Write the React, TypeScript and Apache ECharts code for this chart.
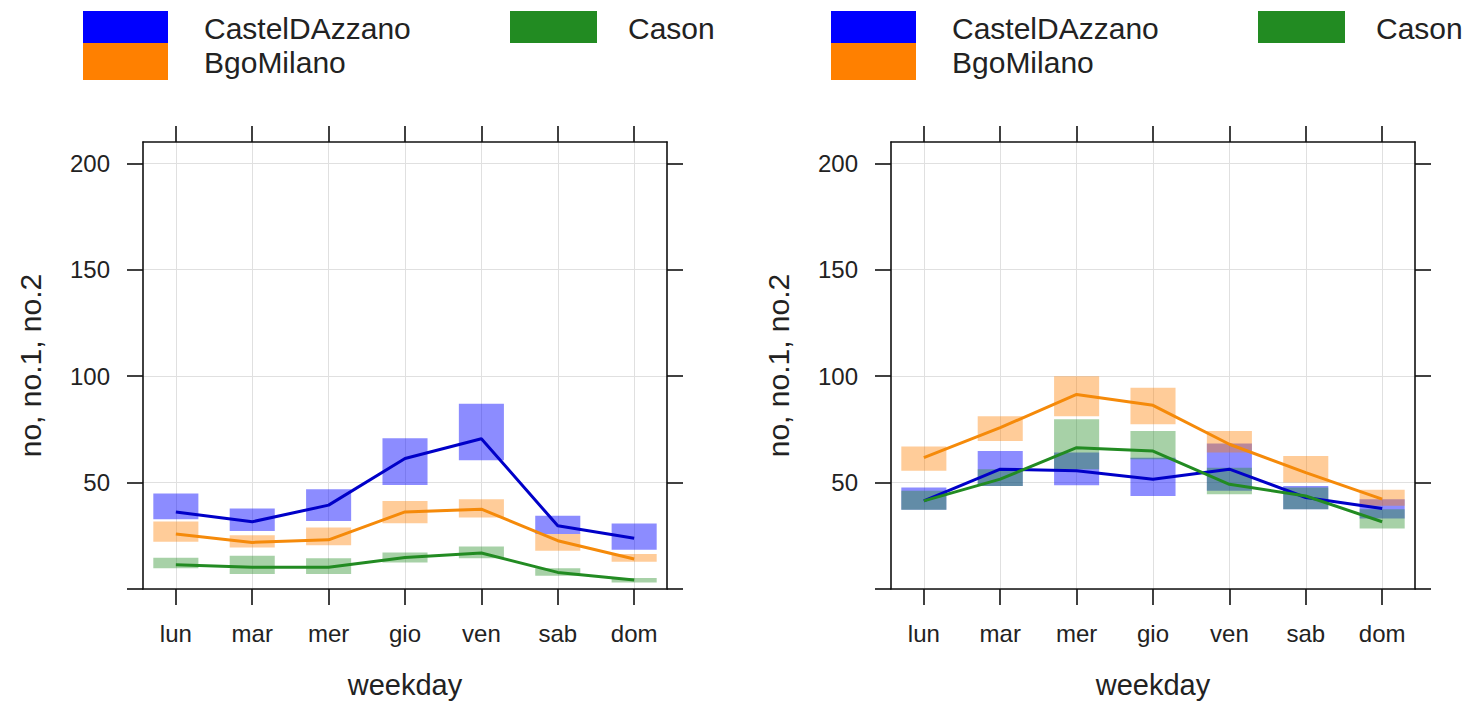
import React, { useEffect, useRef } from 'react';
import * as echarts from 'echarts';

// ---- data ----
const days = ['lun', 'mar', 'mer', 'gio', 'ven', 'sab', 'dom'];
const dayPos = [1, 2, 3, 4, 5, 6, 7];
const seriesNames = ['CastelDAzzano', 'BgoMilano', 'Cason'];
const yTicks = [0, 50, 100, 150, 200];
const yLabelTicks = [50, 100, 150, 200];
const yTitle = 'no, no.1, no.2';
const xTitle = 'weekday';

// left panel
const castelMean1 = [36.2, 31.6, 39.4, 61.3, 70.6, 29.7, 23.8];
const castelLo1 = [32.8, 27.3, 32.0, 48.9, 60.5, 25.8, 18.4];
const castelHi1 = [44.9, 37.8, 46.9, 70.8, 87.0, 34.4, 30.8];
const bgoMean1 = [25.8, 21.9, 23.1, 36.2, 37.5, 22.7, 14.1];
const bgoLo1 = [22.2, 19.5, 20.6, 30.9, 33.6, 18.0, 12.8];
const bgoHi1 = [31.7, 25.3, 28.9, 41.4, 42.2, 25.8, 16.4];
const casonMean1 = [11.4, 10.2, 10.2, 14.8, 16.9, 7.8, 4.2];
const casonLo1 = [9.7, 7.0, 7.0, 12.5, 14.4, 6.2, 3.1];
const casonHi1 = [14.7, 15.6, 14.5, 17.2, 20.0, 9.7, 5.2];

// right panel
const castelMean2 = [41.4, 56.3, 55.5, 51.6, 56.3, 43.0, 37.8];
const castelLo2 = [37.2, 48.4, 48.8, 43.7, 46.1, 37.5, 33.1];
const castelHi2 = [47.7, 64.8, 64.1, 61.7, 68.3, 48.4, 42.2];
const bgoMean2 = [61.7, 75.8, 91.4, 86.3, 68.0, 54.7, 42.2];
const bgoLo2 = [55.5, 69.5, 81.2, 77.4, 64.1, 50.0, 39.1];
const bgoHi2 = [66.9, 81.2, 100.0, 94.6, 74.2, 62.5, 46.6];
const casonMean2 = [41.4, 51.6, 66.4, 64.8, 49.2, 43.7, 31.6];
const casonLo2 = [37.2, 48.4, 56.3, 60.9, 44.5, 37.5, 28.4];
const casonHi2 = [46.1, 56.3, 79.7, 74.2, 57.0, 47.7, 37.5];

const panels = [
  {
    mean: [castelMean1, bgoMean1, casonMean1],
    lo: [castelLo1, bgoLo1, casonLo1],
    hi: [castelHi1, bgoHi1, casonHi1],
  },
  {
    mean: [castelMean2, bgoMean2, casonMean2],
    lo: [castelLo2, bgoLo2, casonLo2],
    hi: [castelHi2, bgoHi2, casonHi2],
  },
];

// ---- styles ----
const FONT = "'Liberation Sans', Arial, sans-serif";
const lineColors = ['#0000C8', '#F58A0A', '#228B22'];
const swatchColors = ['#0000FF', '#FF8000', '#228B22'];
const boxFills = ['rgba(0,0,255,0.45)', 'rgba(255,128,0,0.4)', 'rgba(34,139,34,0.4)'];
const AXIS_COLOR = '#111111';
const TEXT_COLOR = '#222222';
const GRID_COLOR = '#e0e0e0';
const gridLefts = [143, 891];
const GRID_TOP = 142;
const GRID_W = 524;
const GRID_H = 447;
const HALF_W = 0.295;

function buildOption() {
  const grid: any[] = [];
  const xAxis: any[] = [];
  const yAxis: any[] = [];
  const series: any[] = [];
  const graphic: any[] = [];

  const axisLine = { show: true, onZero: false, lineStyle: { color: AXIS_COLOR, width: 1.6 } };
  const tickStyle = { color: AXIS_COLOR, width: 1.6 };

  gridLefts.forEach((left, p) => {
    grid.push({ left, top: GRID_TOP, width: GRID_W, height: GRID_H, containLabel: false, outerBoundsMode: 'none' });
    // bottom x
    xAxis.push({
      type: 'value', gridIndex: p, position: 'bottom', min: 0.57, max: 7.43,
      axisLine,
      axisTick: { show: true, inside: false, length: 16, lineStyle: tickStyle, customValues: dayPos },
      axisLabel: {
        customValues: dayPos, margin: 32, fontSize: 24, color: TEXT_COLOR, fontFamily: FONT,
        formatter: (v: number) => days[Math.round(v) - 1] ?? '',
      },
      splitLine: { show: true, lineStyle: { color: GRID_COLOR, width: 1 } },
      name: xTitle, nameLocation: 'middle', nameGap: 96,
      nameTextStyle: { fontSize: 29, color: TEXT_COLOR, fontFamily: FONT, verticalAlign: 'middle' },
    });
    // top x
    xAxis.push({
      type: 'value', gridIndex: p, position: 'top', min: 0.57, max: 7.43,
      axisLine,
      axisTick: { show: true, inside: false, length: 16, lineStyle: tickStyle, customValues: dayPos },
      axisLabel: { show: false, customValues: dayPos },
      splitLine: { show: false },
    });
    // left y
    yAxis.push({
      type: 'value', gridIndex: p, position: 'left', min: 0, max: 210,
      axisLine,
      axisTick: { show: true, inside: false, length: 16, lineStyle: tickStyle, customValues: yTicks },
      axisLabel: { customValues: yLabelTicks, margin: 33, fontSize: 24, color: TEXT_COLOR, fontFamily: FONT },
      splitLine: { show: true, lineStyle: { color: GRID_COLOR, width: 1 } },
      name: yTitle, nameLocation: 'middle', nameGap: 113,
      nameTextStyle: { fontSize: 30, color: TEXT_COLOR, fontFamily: FONT, verticalAlign: 'middle' },
    });
    // right y
    yAxis.push({
      type: 'value', gridIndex: p, position: 'right', min: 0, max: 210,
      axisLine,
      axisTick: { show: true, inside: false, length: 16, lineStyle: tickStyle, customValues: yTicks },
      axisLabel: { show: false, customValues: yTicks },
      splitLine: { show: false },
    });

    const pan = panels[p];
    seriesNames.forEach((name, s) => {
      const fill = boxFills[s];
      series.push({
        type: 'custom', name, xAxisIndex: p * 2, yAxisIndex: p * 2, z: 2,
        data: dayPos.map((x, k) => [x, pan.lo[s][k], pan.hi[s][k]]),
        renderItem: (params: any, api: any) => {
          const x = api.value(0);
          const lo = api.value(1);
          const hi = api.value(2);
          const a = api.coord([x - HALF_W, hi]);
          const b = api.coord([x + HALF_W, lo]);
          return {
            type: 'rect',
            shape: { x: a[0], y: a[1], width: b[0] - a[0], height: b[1] - a[1] },
            style: { fill },
          };
        },
      });
    });
    seriesNames.forEach((name, s) => {
      series.push({
        type: 'line', name, xAxisIndex: p * 2, yAxisIndex: p * 2, z: 3,
        data: dayPos.map((x, k) => [x, pan.mean[s][k]]),
        symbol: 'none',
        lineStyle: { color: lineColors[s], width: 3 },
        itemStyle: { color: lineColors[s] },
      });
    });

    // legend (key) above each panel
    const dx = left - gridLefts[0];
    graphic.push(
      { type: 'rect', left: 83 + dx, top: 11, shape: { width: 85, height: 32 }, style: { fill: swatchColors[0] } },
      { type: 'rect', left: 83 + dx, top: 43, shape: { width: 85, height: 37 }, style: { fill: swatchColors[1] } },
      { type: 'rect', left: 510 + dx, top: 11, shape: { width: 87, height: 32 }, style: { fill: swatchColors[2] } },
      { type: 'text', x: 204 + dx, y: 28, style: { text: seriesNames[0], fontSize: 30, fontFamily: FONT, fill: TEXT_COLOR, verticalAlign: 'middle' } },
      { type: 'text', x: 204 + dx, y: 62, style: { text: seriesNames[1], fontSize: 30, fontFamily: FONT, fill: TEXT_COLOR, verticalAlign: 'middle' } },
      { type: 'text', x: 628 + dx, y: 28, style: { text: seriesNames[2], fontSize: 30, fontFamily: FONT, fill: TEXT_COLOR, verticalAlign: 'middle' } },
    );
  });

  return {
    animation: false,
    backgroundColor: '#ffffff',
    grid, xAxis, yAxis, series, graphic,
  };
}

export default function App() {
  const ref = useRef<HTMLDivElement>(null);
  useEffect(() => {
    if (!ref.current) return;
    const chart = echarts.init(ref.current, undefined, { renderer: 'svg' });
    chart.setOption(buildOption() as any);
    return () => chart.dispose();
  }, []);
  return <div ref={ref} style={{ position: 'absolute', left: 0, top: 0, width: 1468, height: 704 }} />;
}
